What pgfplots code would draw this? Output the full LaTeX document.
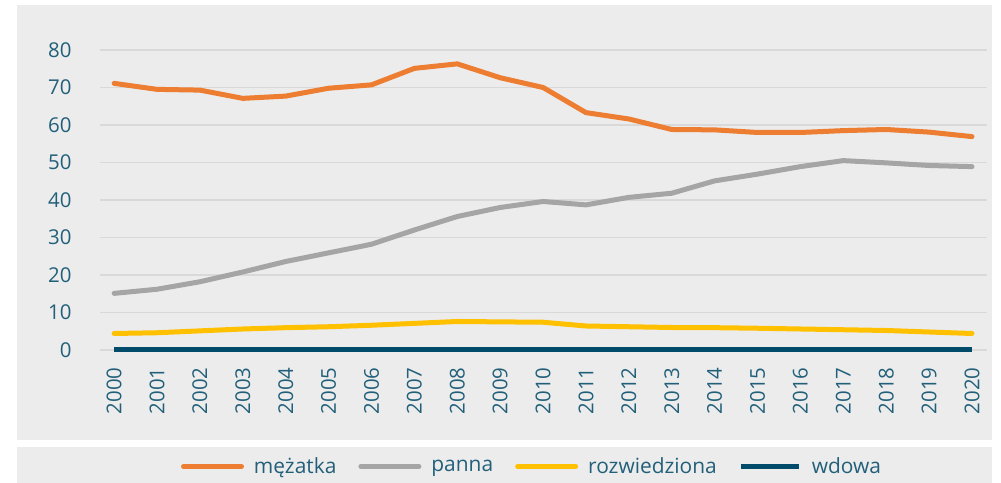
\documentclass[border=0pt]{standalone}
\usepackage{pgfplots}
\pgfplotsset{compat=1.18}
\usepackage{fontspec}
\setmainfont{Open Sans}
\definecolor{bgc}{RGB}{236,236,236}
\definecolor{gridc}{RGB}{217,217,217}
\definecolor{txt}{RGB}{34,96,122}
\definecolor{cor}{RGB}{237,125,49}
\definecolor{cgr}{RGB}{165,165,165}
\definecolor{cye}{RGB}{255,192,0}
\definecolor{cdb}{RGB}{0,75,105}
\begin{document}
\begin{tikzpicture}[x=1bp,y=1bp]
\fill[white] (0,0) rectangle (1001,483);
\fill[bgc] (17,43) rectangle (992,478);
\fill[bgc] (17,0) rectangle (992,36);
\begin{axis}[
  at={(100bp,133bp)}, anchor=origin,
  scale only axis, width=887bp, height=300bp,
  xmin=1999.67, xmax=2020.35, ymin=0, ymax=80,
  clip=false,
  axis line style={draw=none},
  major tick length=0pt,
  xtick={2000,2001,...,2020},
  ytick={0,10,...,80},
  ymajorgrids, grid style={gridc, line width=1.5bp},
  /pgf/number format/assume math mode=true,
  xticklabel={\pgfmathprintnumber[1000 sep={}]{\tick}},
  xticklabel style={rotate=90, anchor=east, xshift=-14bp, font=\fontsize{20.5}{22}\selectfont, text=txt},
  yticklabel style={anchor=east, xshift=-25bp, font=\fontsize{20.5}{22}\selectfont, text=txt},
  legend columns=4,
  legend style={at={(532bp-100bp,16.5bp-133bp)}, anchor=center, draw=none, fill=none,
    font=\fontsize{21}{23}\selectfont, text=txt,
    /tikz/every odd column/.append style={column sep=8bp},
    /tikz/every even column/.append style={column sep=20bp}},
  legend image code/.code={\draw[#1] (0bp,0bp) -- (58bp,0bp);},
  every axis plot/.append style={line width=5bp, line join=round},
]
\addplot[cor, line cap=round] coordinates {
(2000,71.1)(2001,69.5)(2002,69.3)(2003,67.1)(2004,67.7)(2005,69.8)(2006,70.7)(2007,75.1)(2008,76.3)(2009,72.6)(2010,70.0)
(2011,63.3)(2012,61.6)(2013,58.8)(2014,58.7)(2015,58.0)(2016,58.0)(2017,58.5)(2018,58.8)(2019,58.1)(2020,56.9)};
\addlegendentry{mężatka}
\addplot[cgr, line cap=round] coordinates {
(2000,15.1)(2001,16.2)(2002,18.2)(2003,20.8)(2004,23.6)(2005,25.9)(2006,28.2)(2007,32.0)(2008,35.6)(2009,38.0)(2010,39.6)
(2011,38.7)(2012,40.7)(2013,41.8)(2014,45.1)(2015,46.9)(2016,48.9)(2017,50.5)(2018,49.9)(2019,49.2)(2020,48.9)};
\addlegendentry{panna}
\addplot[cye, line cap=round] coordinates {
(2000,4.4)(2001,4.6)(2002,5.1)(2003,5.6)(2004,5.95)(2005,6.2)(2006,6.6)(2007,7.1)(2008,7.6)(2009,7.5)(2010,7.4)
(2011,6.4)(2012,6.2)(2013,6.0)(2014,5.95)(2015,5.8)(2016,5.6)(2017,5.4)(2018,5.2)(2019,4.8)(2020,4.4)};
\addlegendentry{rozwiedziona}
\addplot[cdb] coordinates {
(2000,0.1)(2001,0.1)(2002,0.1)(2003,0.1)(2004,0.1)(2005,0.1)(2006,0.1)(2007,0.1)(2008,0.1)(2009,0.1)(2010,0.1)
(2011,0.1)(2012,0.1)(2013,0.1)(2014,0.1)(2015,0.1)(2016,0.1)(2017,0.1)(2018,0.1)(2019,0.1)(2020,0.1)};
\addlegendentry{wdowa}
\end{axis}
\end{tikzpicture}
\end{document}
